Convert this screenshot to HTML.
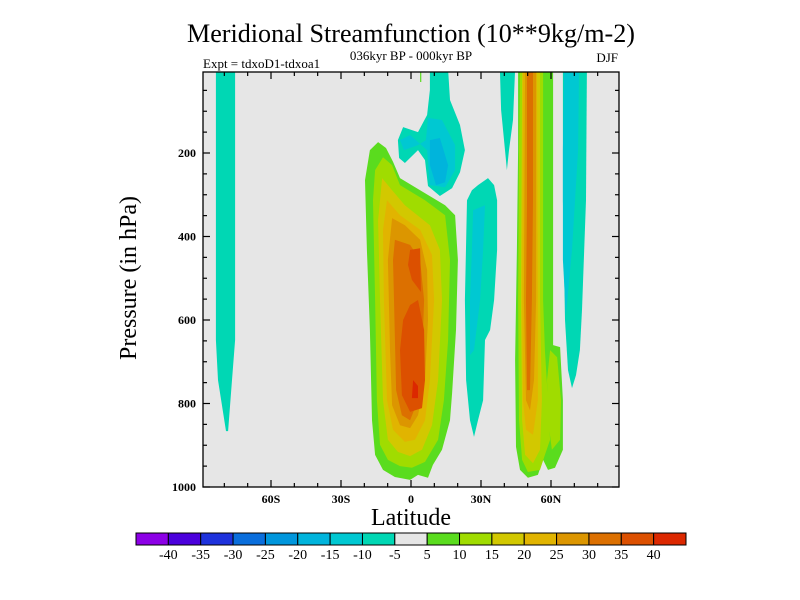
<!DOCTYPE html>
<html><head><meta charset="utf-8"><style>
html,body{margin:0;padding:0;background:#fff;}
svg{display:block;font-family:"Liberation Serif",serif;}
</style></head><body>
<svg id="chart" width="800" height="600" viewBox="0 0 800 600">
<defs><clipPath id="pc"><rect x="203" y="72" width="416" height="415"/></clipPath></defs>
<text x="411" y="42" text-anchor="middle" font-size="26" textLength="448" lengthAdjust="spacingAndGlyphs">Meridional Streamfunction (10**9kg/m-2)</text>
<text x="411" y="60" text-anchor="middle" font-size="13">036kyr BP - 000kyr BP</text>
<text x="203" y="68" font-size="13">Expt = tdxoD1-tdxoa1</text>
<text x="618" y="62" text-anchor="end" font-size="13">DJF</text>
<rect x="203" y="72" width="416" height="415" fill="#e6e6e6"/>
<g id="contours" clip-path="url(#pc)"></g>
<rect x="203" y="72" width="416" height="415" fill="none" stroke="#000" stroke-width="1.3"/>
<g id="axes"></g>
<text x="411" y="525" text-anchor="middle" font-size="24">Latitude</text>
<text transform="translate(136,278) rotate(-90)" text-anchor="middle" font-size="24">Pressure (in hPa)</text>
<g id="cbar"></g>
</svg>
<script>
const colorBins=['#8c00e6','#4b00dc','#1e32dc','#0a6edc','#0096dc','#00b4dc','#00c8d2','#00d7b4','#e6e6e6','#5adc1e','#a0dc00','#d2c800','#e1b400','#dc9600','#dc7000','#dc5000','#dc2800'];
const levelLabels=['-40','-35','-30','-25','-20','-15','-10','-5','5','10','15','20','25','30','35','40'];
const xTickLats=[-60,-30,0,30,60];
const xTickLabels=['60S','30S','0','30N','60N'];
const yTickVals=[200,400,600,800,1000];
const regionValues=[-7.5,7.5,12.5,17.5,22.5,27.5,32.5,37.5,37.5,42.5,-7.5,-12.5,-17.5,-7.5,-12.5,-7.5,-7.5,-12.5,7.5,12.5,12.5,17.5,22.5,27.5,32.5,7.5];
const regionPoints=[
[[-83.6,0],[-75.4,0],[-75.4,648],[-76.7,744],[-78.4,866],[-79.3,866],[-82.7,744],[-83.6,648]],
[[-14.1,174],[-10.7,188],[-7.7,221],[-4.7,260],[3.9,289],[14.6,325],[18.9,349],[20.1,456],[19.3,624],[17.6,775],[16.7,840],[13.3,911],[9.4,947],[7.3,978],[3.0,971],[-0.4,983],[-6.9,976],[-12.0,959],[-15.4,923],[-16.7,840],[-17.6,624],[-18.9,432],[-19.7,265],[-17.6,193]],
[[-12.0,210],[-8.1,229],[-4.7,277],[6.0,313],[14.6,349],[16.7,456],[15.9,648],[14.1,792],[11.6,887],[6.0,940],[0.4,954],[-4.7,950],[-9.9,935],[-13.3,899],[-14.6,792],[-15.4,552],[-16.3,313],[-15.4,241]],
[[-12.4,260],[-8.1,289],[-2.6,325],[8.1,373],[12.4,432],[13.3,552],[11.6,744],[9.0,852],[4.7,911],[-0.4,926],[-5.6,916],[-9.9,887],[-12.0,792],[-13.3,552],[-14.1,361]],
[[-10.3,313],[-4.7,349],[3.9,384],[9.0,444],[9.9,552],[8.1,744],[6.0,840],[1.7,887],[-2.6,892],[-7.7,863],[-10.3,792],[-11.6,552],[-12.0,384]],
[[-8.1,356],[-2.6,373],[3.9,408],[6.9,480],[7.3,600],[6.0,744],[3.0,828],[-0.4,859],[-4.7,852],[-8.1,804],[-9.0,672],[-9.9,456]],
[[-6.9,408],[-0.4,420],[3.9,456],[5.6,552],[4.7,696],[3.0,792],[-0.4,840],[-3.9,828],[-6.4,768],[-7.3,552],[-7.7,456]],
[[-0.4,432],[3.9,428],[4.3,533],[0.4,504],[-1.3,468]],
[[-0.4,564],[3.0,552],[5.6,624],[6.0,744],[4.7,811],[-0.4,820],[-3.9,780],[-4.7,672],[-3.4,600]],
[[0.9,744],[3.0,758],[3.0,787],[0.4,787]],
[[8.1,0],[15.9,0],[16.7,73],[21.0,133],[23.1,193],[21.0,246],[17.6,284],[12.4,303],[7.3,279],[6.0,217],[3.0,193],[-2.6,224],[-5.1,212],[-5.6,169],[-3.4,138],[3.0,150],[6.9,109],[8.1,49]],
[[7.3,116],[13.3,121],[18.9,181],[18.9,241],[14.6,282],[8.1,277],[6.9,193],[-0.4,157],[-4.7,169],[-3.0,193],[3.0,181],[6.4,169]],
[[8.1,169],[12.4,164],[15.9,229],[14.6,270],[10.7,277],[8.1,229]],
[[28.7,277],[33.0,260],[35.6,277],[36.9,313],[36.9,432],[35.6,552],[33.9,624],[31.7,648],[30.9,792],[28.7,840],[27.0,880],[25.3,840],[23.6,744],[23.1,552],[24.0,313],[26.1,289]],
[[26.6,337],[31.7,325],[30.9,432],[29.6,552],[27.0,672],[25.3,684],[25.3,552],[26.1,432]],
[[38.1,0],[44.6,0],[43.7,121],[42.0,193],[41.1,241],[40.3,193],[38.6,97]],
[[65.1,0],[75.4,0],[75.0,313],[73.3,576],[72.4,672],[70.7,732],[69.0,763],[67.3,720],[66.0,600],[65.1,313]],
[[65.6,0],[72.0,0],[71.6,193],[69.0,432],[66.4,588],[65.1,456],[65.1,193]],
[[45.9,0],[60.9,0],[60.9,660],[63.9,665],[65.1,792],[65.1,911],[61.7,954],[58.7,959],[56.6,935],[54.4,971],[50.1,978],[46.7,959],[45.0,904],[44.6,696],[45.4,432],[45.9,193]],
[[46.7,0],[56.6,0],[56.6,552],[57.4,672],[58.7,792],[59.6,887],[57.4,923],[55.3,959],[50.1,964],[47.6,935],[46.3,840],[45.9,552],[46.3,193]],
[[59.6,672],[62.6,689],[64.3,792],[63.9,887],[60.4,911],[58.7,840],[58.3,744]],
[[47.6,0],[55.3,0],[55.3,552],[56.1,792],[55.3,911],[52.3,943],[48.9,923],[47.6,840],[47.1,552]],
[[48.0,0],[54.0,0],[54.4,552],[54.4,792],[52.3,875],[49.3,863],[48.0,792],[47.6,552]],
[[48.9,0],[53.6,0],[53.6,552],[52.7,744],[51.0,816],[49.3,792],[48.4,552]],
[[49.7,0],[52.3,0],[52.3,313],[51.8,552],[51.0,768],[49.7,768],[49.3,552],[49.7,313]],
[[3.9,0],[4.4,0],[4.4,30],[3.9,30]]
];
const NS='http://www.w3.org/2000/svg';
function xs(lat){return 411+lat*2.3333;}
function ys(p){return 487-(1000-p)*0.4175;}
function binColor(v){let i=Math.floor((v+45)/5);if(v>-5&&v<5)i=8;else if(v>=5)i=Math.floor((v-5)/5)+9;else i=Math.floor((v+45)/5);i=Math.max(0,Math.min(16,i));return colorBins[i];}
function mk(tag,attrs,parent){const e=document.createElementNS(NS,tag);for(const k in attrs)e.setAttribute(k,attrs[k]);parent.appendChild(e);return e;}
const cg=document.getElementById('contours');
regionPoints.forEach((pts,i)=>{
  const poly=mk('polygon',{points:pts.map(q=>xs(q[0]).toFixed(1)+','+ys(q[1]).toFixed(1)).join(' '),fill:binColor(regionValues[i])},cg);
  
  
});
const ax=document.getElementById('axes');
for(let lat=-80;lat<=80;lat+=10){
  const major=xTickLats.includes(lat);const L=major?7:4;
  mk('line',{x1:xs(lat),x2:xs(lat),y1:487,y2:487-L,stroke:'#000','stroke-width':1.2},ax);
  mk('line',{x1:xs(lat),x2:xs(lat),y1:72,y2:72+L,stroke:'#000','stroke-width':1.2},ax);
}
xTickLats.forEach((lat,i)=>{
  const t=mk('text',{x:xs(lat),y:503,'text-anchor':'middle','font-size':12,'font-weight':'bold'},ax);
  t.textContent=xTickLabels[i];
  
  
});
for(let p=50;p<=1000;p+=50){
  if(ys(p)<72)continue;
  const major=yTickVals.includes(p);const L=major?7:4;
  mk('line',{x1:203,x2:203+L,y1:ys(p),y2:ys(p),stroke:'#000','stroke-width':1.2},ax);
  mk('line',{x1:619,x2:619-L,y1:ys(p),y2:ys(p),stroke:'#000','stroke-width':1.2},ax);
}
yTickVals.forEach(p=>{
  const t=mk('text',{x:196,y:ys(p)+4,'text-anchor':'end','font-size':12,'font-weight':'bold'},ax);
  t.textContent=String(p);
  
  
});
const cb=document.getElementById('cbar');
const cbX0=136,cbW=550/colorBins.length;
colorBins.forEach((c,i)=>{
  const r=mk('rect',{x:cbX0+i*cbW,y:533,width:cbW,height:12,fill:c,stroke:'#000','stroke-width':1},cb);
  
  
});
levelLabels.forEach((s,i)=>{
  const t=mk('text',{x:cbX0+(i+1)*cbW,y:559,'text-anchor':'middle','font-size':14},cb);
  t.textContent=s;
  
  
});
</script>
</body></html>
